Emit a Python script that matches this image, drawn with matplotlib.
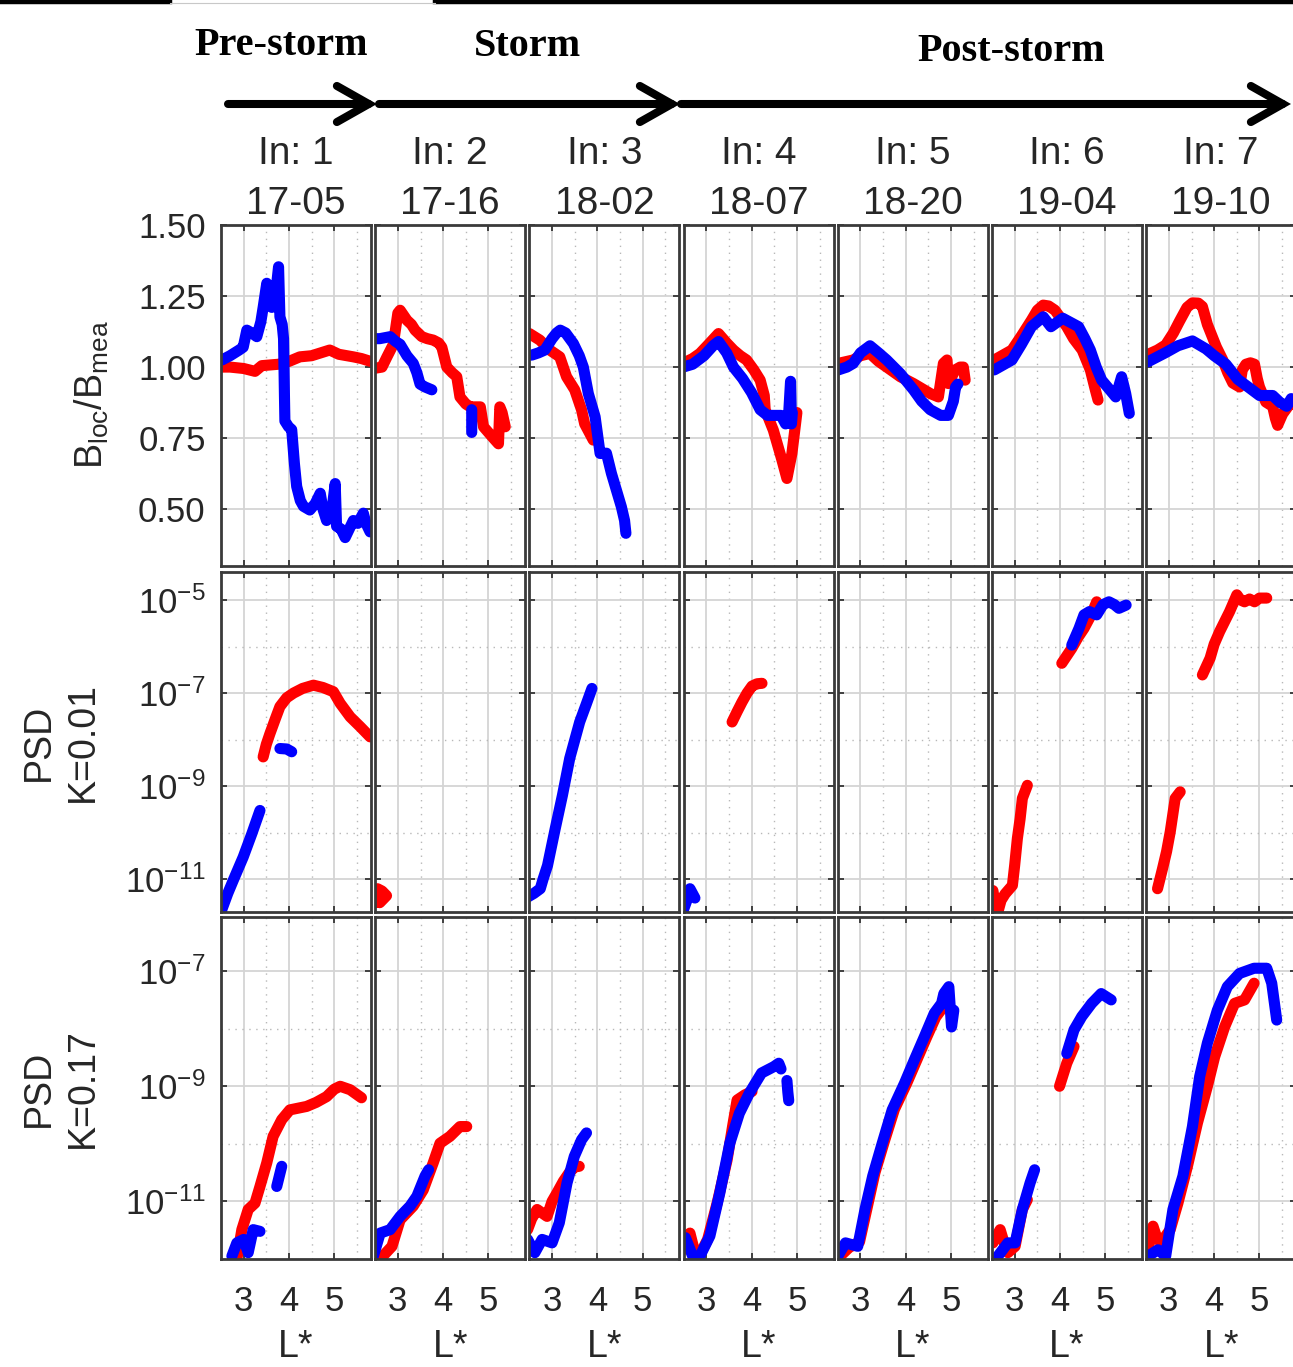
import numpy as np
import matplotlib
matplotlib.use('Agg')
import matplotlib.pyplot as plt
from matplotlib.patches import FancyArrowPatch
from matplotlib.lines import Line2D
from matplotlib.ticker import FixedLocator, NullFormatter, NullLocator

plt.rcParams['font.family'] = ['Liberation Sans', 'DejaVu Sans']
plt.rcParams['mathtext.fontset'] = 'custom'
plt.rcParams['mathtext.rm'] = 'Liberation Sans'
plt.rcParams['mathtext.it'] = 'Liberation Sans:italic'
plt.rcParams['mathtext.bf'] = 'Liberation Sans:bold'
plt.rcParams['mathtext.default'] = 'regular'

nan = np.nan

# ---- labels ----
phases = ['Pre-storm', 'Storm', 'Post-storm']
passes = ['In: 1', 'In: 2', 'In: 3', 'In: 4', 'In: 5', 'In: 6', 'In: 7']
times = ['17-05', '17-16', '18-02', '18-07', '18-20', '19-04', '19-10']
L_ticks = [3, 4, 5]
ratio_ticks = [0.50, 0.75, 1.00, 1.25, 1.50]
psd1_ticks = [-11, -9, -7, -5]   # exponents, K=0.01
psd2_ticks = [-11, -9, -7]       # exponents, K=0.17

# ---- row 1: B_loc/B_mea vs L*  (L*, ratio) ----
ratio_red = [
    [(2.45, 1.00), (2.7, 1.0), (3.0, 0.995), (3.25, 0.985), (3.4, 1.005), (3.77, 1.01), (4.0, 1.02),
     (4.24, 1.036), (4.5, 1.04), (4.7, 1.05), (4.9, 1.06), (5.1, 1.045), (5.42, 1.036), (5.6, 1.03), (5.8, 1.02)],
    [(2.5, 0.996), (2.65, 1.0), (2.76, 1.036), (2.9, 1.08), (3.0, 1.19), (3.05, 1.2), (3.2, 1.165), (3.3, 1.15),
     (3.38, 1.13), (3.53, 1.107), (3.65, 1.10), (3.78, 1.095), (3.9, 1.085), (3.97, 1.07), (4.08, 1.0), (4.2, 0.98),
     (4.3, 0.966), (4.37, 0.895), (4.5, 0.87), (4.6, 0.86), (4.82, 0.86), (4.89, 0.79), (5.08, 0.755), (5.22, 0.73),
     (5.25, 0.86), (5.3, 0.84), (5.37, 0.79)],
    [(2.5, 1.118), (2.73, 1.095), (2.95, 1.06), (3.17, 1.036), (3.32, 0.966), (3.5, 0.92), (3.65, 0.85),
     (3.72, 0.80), (3.91, 0.743)],
    [(2.48, 1.013), (2.7, 1.03), (2.86, 1.048), (3.05, 1.08), (3.27, 1.118), (3.45, 1.085), (3.6, 1.06),
     (3.75, 1.04), (3.89, 1.025), (4.05, 0.99), (4.19, 0.954), (4.28, 0.9), (4.3, 0.85), (4.48, 0.778),
     (4.67, 0.673), (4.78, 0.608), (4.89, 0.696), (4.97, 0.8), (5.0, 0.84)],
    [(2.51, 1.013), (2.84, 1.025), (3.0, 1.04), (3.21, 1.048), (3.4, 1.02), (3.58, 1.0), (3.88, 0.966),
     (4.17, 0.942), (4.54, 0.907), (4.72, 0.895), (4.83, 1.013), (4.91, 1.025), (4.94, 0.942), (5.09, 0.99),
     (5.2, 1.0), (5.27, 1.0), (5.31, 0.954)],
    [(2.55, 1.025), (2.94, 1.06), (3.15, 1.11), (3.37, 1.165), (3.5, 1.2), (3.63, 1.218), (3.75, 1.215),
     (3.89, 1.2), (4.15, 1.142), (4.3, 1.1), (4.49, 1.06), (4.67, 0.99), (4.78, 0.92), (4.84, 0.884)],
    [(2.53, 1.044), (2.75, 1.06), (2.93, 1.078), (3.1, 1.12), (3.23, 1.16), (3.4, 1.21), (3.52, 1.226),
     (3.65, 1.225), (3.74, 1.213), (3.85, 1.15), (3.93, 1.118), (4.05, 1.07), (4.19, 1.025), (4.3, 0.98),
     (4.41, 0.944), (4.56, 0.93), (4.62, 0.99), (4.7, 1.01), (4.8, 1.015), (4.89, 1.01), (4.95, 0.96),
     (5.0, 0.93), (5.14, 0.877), (5.29, 0.862), (5.35, 0.82), (5.4, 0.795), (5.51, 0.835), (5.7, 0.877),
     (5.85, 0.86)],
]
ratio_blue = [
    [(2.52, 1.025), (2.7, 1.04), (2.9, 1.06), (2.99, 1.07), (3.07, 1.13), (3.18, 1.12), (3.29, 1.107),
     (3.38, 1.16), (3.43, 1.21), (3.51, 1.295), (3.56, 1.23), (3.62, 1.21), (3.7, 1.25), (3.77, 1.353),
     (3.8, 1.177), (3.85, 1.15), (3.88, 1.10), (3.9, 0.9), (3.91, 0.81), (3.99, 0.79), (4.06, 0.78),
     (4.12, 0.66), (4.17, 0.58), (4.25, 0.53), (4.32, 0.51), (4.46, 0.497), (4.58, 0.52), (4.69, 0.556),
     (4.75, 0.50), (4.83, 0.46), (4.95, 0.5), (5.02, 0.59), (5.05, 0.44), (5.15, 0.43), (5.24, 0.40),
     (5.33, 0.43), (5.42, 0.46), (5.52, 0.45), (5.64, 0.486), (5.7, 0.45), (5.79, 0.42)],
    [(2.46, 1.10), (2.6, 1.10), (2.83, 1.107), (2.95, 1.09), (3.05, 1.08), (3.2, 1.04), (3.34, 1.013),
     (3.42, 0.98), (3.49, 0.94), (3.6, 0.93), (3.75, 0.92), (nan, nan), (4.63, 0.85), (4.63, 0.77)],
    [(2.55, 1.042), (2.7, 1.05), (2.84, 1.06), (3.0, 1.1), (3.1, 1.12), (3.18, 1.13), (3.3, 1.12),
     (3.47, 1.083), (3.6, 1.04), (3.69, 1.0), (3.8, 0.907), (3.95, 0.825), (4.06, 0.696), (4.2, 0.697),
     (4.31, 0.626), (4.42, 0.567), (4.53, 0.508), (4.6, 0.46), (4.63, 0.415)],
    [(2.49, 1.0), (2.7, 1.01), (2.95, 1.04), (3.15, 1.075), (3.27, 1.09), (3.45, 1.05), (3.6, 1.0),
     (3.8, 0.96), (4.0, 0.91), (4.19, 0.85), (4.35, 0.83), (4.5, 0.83), (4.65, 0.83), (4.75, 0.80),
     (4.82, 0.84), (4.86, 0.95), (4.88, 0.80), (4.9, 0.84)],
    [(2.51, 0.99), (2.7, 1.0), (2.84, 1.013), (3.0, 1.05), (3.21, 1.075), (3.4, 1.05), (3.58, 1.025),
     (3.88, 0.977), (4.17, 0.92), (4.35, 0.88), (4.54, 0.85), (4.77, 0.83), (4.94, 0.83), (5.05, 0.88),
     (5.1, 0.93), (5.15, 0.94)],
    [(2.55, 0.99), (2.94, 1.025), (3.15, 1.08), (3.37, 1.142), (3.63, 1.177), (3.8, 1.142), (4.06, 1.172),
     (4.2, 1.16), (4.41, 1.142), (4.55, 1.1), (4.67, 1.06), (4.8, 1.0), (4.92, 0.954), (5.1, 0.92),
     (5.23, 0.895), (5.36, 0.966), (5.45, 0.907), (5.53, 0.837)],
    [(2.53, 1.018), (2.93, 1.051), (3.2, 1.075), (3.52, 1.092), (3.82, 1.064), (4.0, 1.04), (4.26, 1.01),
     (4.52, 0.957), (4.75, 0.93), (5.0, 0.90), (5.29, 0.90), (5.45, 0.876), (5.6, 0.862), (5.7, 0.889),
     (5.85, 0.87)],
]

# ---- row 2: PSD, K=0.01  (L*, log10 PSD) ----
psd1_red = [
    [(3.43, -8.37), (3.5, -8.1), (3.58, -7.87), (3.7, -7.55), (3.80, -7.29), (3.95, -7.1), (4.1, -7.0),
     (4.3, -6.9), (4.54, -6.83), (4.75, -6.88), (4.98, -6.97), (5.13, -7.22), (5.35, -7.51), (5.57, -7.72),
     (5.79, -7.94)],
    [(2.5, -11.5), (2.55, -11.2), (2.65, -11.25), (2.75, -11.35), (2.6, -11.5)],
    [],
    [(3.57, -7.62), (3.68, -7.4), (3.79, -7.19), (3.9, -7.0), (4.01, -6.85), (4.12, -6.8), (4.23, -6.79)],
    [],
    [(2.52, -11.24), (2.58, -11.6), (2.63, -11.7), (2.7, -11.45), (2.79, -11.31), (2.95, -11.13),
     (3.0, -10.7), (3.06, -10.12), (3.12, -9.7), (3.17, -9.26), (3.28, -8.98), (nan, nan),
     (4.04, -6.36), (4.15, -6.2), (4.26, -6.04), (4.4, -5.8), (4.53, -5.61), (4.7, -5.3), (4.81, -5.04)],
    [(2.75, -11.2), (2.86, -10.77), (2.95, -10.4), (3.03, -9.98), (3.14, -9.26), (3.25, -9.12), (nan, nan),
     (3.74, -6.61), (3.91, -6.25), (4.0, -5.95), (4.12, -5.68), (4.34, -5.25), (4.5, -4.89), (4.58, -5.0),
     (4.67, -5.04), (4.78, -4.98), (4.89, -5.04), (5.0, -4.96), (5.16, -4.96)],
]
psd1_blue = [
    [(2.51, -11.67), (2.65, -11.3), (2.77, -11.02), (2.99, -10.52), (3.18, -10.02), (3.36, -9.52),
     (nan, nan), (3.8, -8.19), (3.95, -8.2), (4.06, -8.26)],
    [],
    [(2.46, -11.38), (2.6, -11.3), (2.74, -11.2), (2.8, -11.0), (2.9, -10.7), (3.07, -9.91), (3.23, -9.19),
     (3.39, -8.4), (3.61, -7.62), (3.75, -7.25), (3.88, -6.9)],
    [(2.48, -11.7), (2.59, -11.4), (2.64, -11.2), (2.75, -11.4)],
    [],
    [(4.26, -5.97), (4.42, -5.61), (4.53, -5.32), (4.65, -5.25), (4.81, -5.32), (4.95, -5.1), (5.08, -5.04),
     (5.2, -5.1), (5.3, -5.18), (5.46, -5.11)],
    [],
]

# ---- row 3: PSD, K=0.17  (L*, log10 PSD) ----
psd2_red = [
    [(2.85, -12.0), (2.96, -11.49), (3.1, -11.14), (3.25, -11.03), (3.36, -10.74), (3.51, -10.33),
     (3.65, -9.87), (3.84, -9.58), (4.02, -9.41), (4.39, -9.35), (4.6, -9.28), (4.83, -9.18), (5.0, -9.05),
     (5.13, -9.0), (5.35, -9.06), (5.6, -9.2)],
    [(2.61, -12.0), (2.87, -11.78), (3.05, -11.32), (3.34, -11.08), (3.56, -10.8), (3.78, -10.33),
     (3.93, -9.99), (4.15, -9.87), (4.37, -9.7), (4.52, -9.7)],
    [(2.46, -11.49), (2.55, -11.3), (2.67, -11.14), (2.78, -11.2), (2.89, -11.26), (3.0, -11.0),
     (3.11, -10.85), (3.25, -10.65), (3.38, -10.5), (3.5, -10.4), (3.6, -10.39)],
    [(2.48, -11.84), (2.64, -11.55), (2.72, -11.8), (2.81, -12.0), (3.03, -11.66), (3.24, -11.03),
     (3.46, -10.28), (3.58, -9.7), (3.68, -9.24), (3.85, -9.15), (4.01, -9.09)],
    [(2.55, -11.95), (2.75, -11.8), (2.98, -11.7), (3.15, -11.1), (3.32, -10.5), (3.53, -9.95), (3.75, -9.4),
     (4.02, -8.95), (4.24, -8.55), (4.46, -8.15), (4.66, -7.8), (4.8, -7.65), (4.88, -7.55)],
    [(2.52, -11.72), (2.68, -11.49), (2.76, -11.7), (2.85, -11.89), (3.01, -11.78), (3.17, -11.14),
     (3.28, -10.97), (nan, nan), (3.99, -9.0), (4.15, -8.6), (4.31, -8.31)],
    [(2.54, -11.84), (2.65, -11.43), (2.72, -11.6), (2.82, -11.72), (3.03, -11.49), (3.2, -11.03),
     (3.41, -10.39), (3.63, -9.64), (3.85, -9.0), (4.01, -8.49), (4.23, -7.97), (4.45, -7.56), (4.67, -7.5),
     (4.88, -7.21)],
]
psd2_blue = [
    [(2.74, -11.95), (2.85, -11.72), (3.0, -11.66), (3.1, -11.89), (3.21, -11.49), (3.36, -11.52),
     (nan, nan), (3.73, -10.74), (3.84, -10.39)],
    [(2.46, -11.95), (2.61, -11.55), (2.83, -11.49), (3.05, -11.26), (3.27, -11.08), (3.42, -10.91),
     (3.6, -10.56), (3.68, -10.45)],
    [(2.46, -11.66), (2.62, -11.89), (2.78, -11.66), (3.0, -11.72), (3.16, -11.37), (3.33, -10.68),
     (3.49, -10.22), (3.65, -9.93), (3.76, -9.81)],
    [(2.54, -11.63), (2.7, -11.95), (2.86, -11.95), (3.08, -11.6), (3.3, -10.85), (3.52, -9.99),
     (3.73, -9.47), (3.95, -9.12), (4.22, -8.77), (4.49, -8.66), (4.6, -8.6), (4.65, -8.7), (nan, nan),
     (4.78, -8.9), (4.8, -9.1), (4.82, -9.25)],
    [(2.5, -11.95), (2.67, -11.72), (2.94, -11.78), (3.1, -11.14), (3.27, -10.56), (3.48, -9.99),
     (3.7, -9.41), (3.97, -8.95), (4.19, -8.54), (4.41, -8.14), (4.63, -7.73), (4.79, -7.56), (4.84, -7.39),
     (4.95, -7.27), (5.01, -7.97), (5.06, -7.68)],
    [(2.63, -11.95), (2.85, -11.72), (3.01, -11.72), (3.17, -11.14), (3.34, -10.68), (3.44, -10.45),
     (nan, nan), (4.15, -8.43), (4.31, -8.02), (4.48, -7.79), (4.7, -7.56), (4.91, -7.39), (5.13, -7.5)],
    [(2.54, -11.95), (2.76, -11.84), (2.93, -11.95), (3.09, -11.14), (3.31, -10.56), (3.52, -9.7),
     (3.68, -8.83), (3.85, -8.25), (4.07, -7.68), (4.29, -7.27), (4.56, -7.04), (4.88, -6.95),
     (5.16, -6.95), (5.27, -7.21), (5.38, -7.85)],
]

# ---- figure / layout (pixels) ----
W, H = 1293, 1367
fig = plt.figure(figsize=(W / 100, H / 100), dpi=100)

col_left = [221 + 154.2 * c for c in range(7)]
col_w = 150
row_top = [225, 572, 917]
row_h = [341, 340, 342]
txt = '#262626'
RED, BLUE = '#ff0000', '#0000ff'


def fx(px):
    return px / W


def fy(py):
    return 1 - py / H


def draw(ax, pts, color, log=False):
    if len(pts) == 0:
        return
    a = np.array(pts, dtype=float)
    y = 10.0 ** a[:, 1] if log else a[:, 1]
    ax.plot(a[:, 0], y, color=color, lw=8, solid_capstyle='round', solid_joinstyle='round')


rows = [(ratio_red, ratio_blue, False), (psd1_red, psd1_blue, True), (psd2_red, psd2_blue, True)]

for r in range(3):
    reds, blues, log = rows[r]
    for c in range(7):
        ax = fig.add_axes([fx(col_left[c]), fy(row_top[r] + row_h[r]), col_w / W, row_h[r] / H])
        draw(ax, reds[c], RED, log)
        draw(ax, blues[c], BLUE, log)
        ax.set_xlim(2.5, 5.81)
        ax.set_xticks(L_ticks)
        ax.xaxis.set_minor_locator(FixedLocator([3.5, 4.5, 5.5]))
        if r == 0:
            ax.set_ylim(0.3, 1.5)
            ax.set_yticks(ratio_ticks)
            ax.yaxis.set_minor_locator(NullLocator())
            labels = ['%.2f' % v for v in ratio_ticks]
        else:
            ax.set_yscale('log')
            if r == 1:
                ax.set_ylim(10 ** -11.7, 10 ** -4.4)
                exps = psd1_ticks
                ax.yaxis.set_minor_locator(FixedLocator([1e-6, 1e-8, 1e-10]))
            else:
                ax.set_ylim(1e-12, 10 ** -6.06)
                exps = psd2_ticks
                ax.yaxis.set_minor_locator(FixedLocator([1e-8, 1e-10]))
            ax.set_yticks([10.0 ** e for e in exps])
            ax.yaxis.set_minor_formatter(NullFormatter())
            labels = ['$10^{%d}$' % e for e in exps]
        if c == 0:
            ax.set_yticklabels(labels)
        else:
            ax.set_yticklabels([])
        if r == 2:
            ax.set_xticklabels([str(t) for t in L_ticks])
        else:
            ax.set_xticklabels([])
        ax.set_axisbelow(True)
        ax.grid(True, which='major', color='#d4d4d4', lw=1.3)
        ax.grid(True, which='minor', color='#b8b8b8', lw=1.0, ls=(0, (1, 4)))
        ax.tick_params(which='major', direction='in', length=4, width=1.2, top=True, right=True,
                       colors=txt, labelsize=25, pad=11)
        ax.tick_params(axis='x', which='major', pad=19)
        ax.tick_params(which='minor', length=0)
        for s in ax.spines.values():
            s.set_color('#3a3a3a')
            s.set_linewidth(2)

# column titles and L* labels
for c in range(7):
    cx = fx(col_left[c] + col_w / 2)
    fig.text(cx, fy(164), passes[c], ha='center', va='baseline', fontsize=28, color=txt)
    fig.text(cx, fy(214), times[c], ha='center', va='baseline', fontsize=28, color=txt)
    fig.text(cx, fy(1365), 'L*', ha='center', va='bottom', fontsize=27, color=txt)

# row labels
fig.text(fx(92), fy(395), '$B_{loc}/B_{mea}$', rotation=90, ha='center', va='center', fontsize=27, color=txt)
fig.text(fx(61), fy(742), 'PSD\nK=0.01', rotation=90, ha='center', va='center', fontsize=27,
         color=txt, linespacing=1.3, multialignment='center')
fig.text(fx(61), fy(1088), 'PSD\nK=0.17', rotation=90, ha='center', va='center', fontsize=27,
         color=txt, linespacing=1.3, multialignment='center')

# storm phase header
serif = ['Liberation Serif', 'DejaVu Serif']
fig.text(fx(281), fy(55), phases[0], ha='center', va='baseline', fontsize=29, fontweight='bold', family=serif)
fig.text(fx(528), fy(56), phases[1], ha='center', va='baseline', fontsize=29, fontweight='bold', family=serif)
fig.text(fx(1011), fy(61), phases[2], ha='center', va='baseline', fontsize=29, fontweight='bold', family=serif)

arrow_x = [(228, 377), (379, 680), (681, 1291)]
for x0, x1 in arrow_x:
    arr = FancyArrowPatch((fx(x0), fy(104)), (fx(x1), fy(104)), transform=fig.transFigure,
                          arrowstyle='->,head_length=23,head_width=13', mutation_scale=1,
                          lw=5.8, color='black', capstyle='round', joinstyle='miter',
                          shrinkA=0, shrinkB=0)
    fig.add_artist(arr)

# top border line
fig.add_artist(Line2D([0, fx(170)], [fy(2), fy(2)], transform=fig.transFigure, color='black', lw=3.2))
fig.add_artist(Line2D([fx(435), 1], [fy(2), fy(2)], transform=fig.transFigure, color='black', lw=3.2))
fig.add_artist(Line2D([fx(170), fx(435)], [fy(3), fy(3)], transform=fig.transFigure, color='#c8c8c8', lw=0.8))

fig.savefig('out.png', dpi=100)
